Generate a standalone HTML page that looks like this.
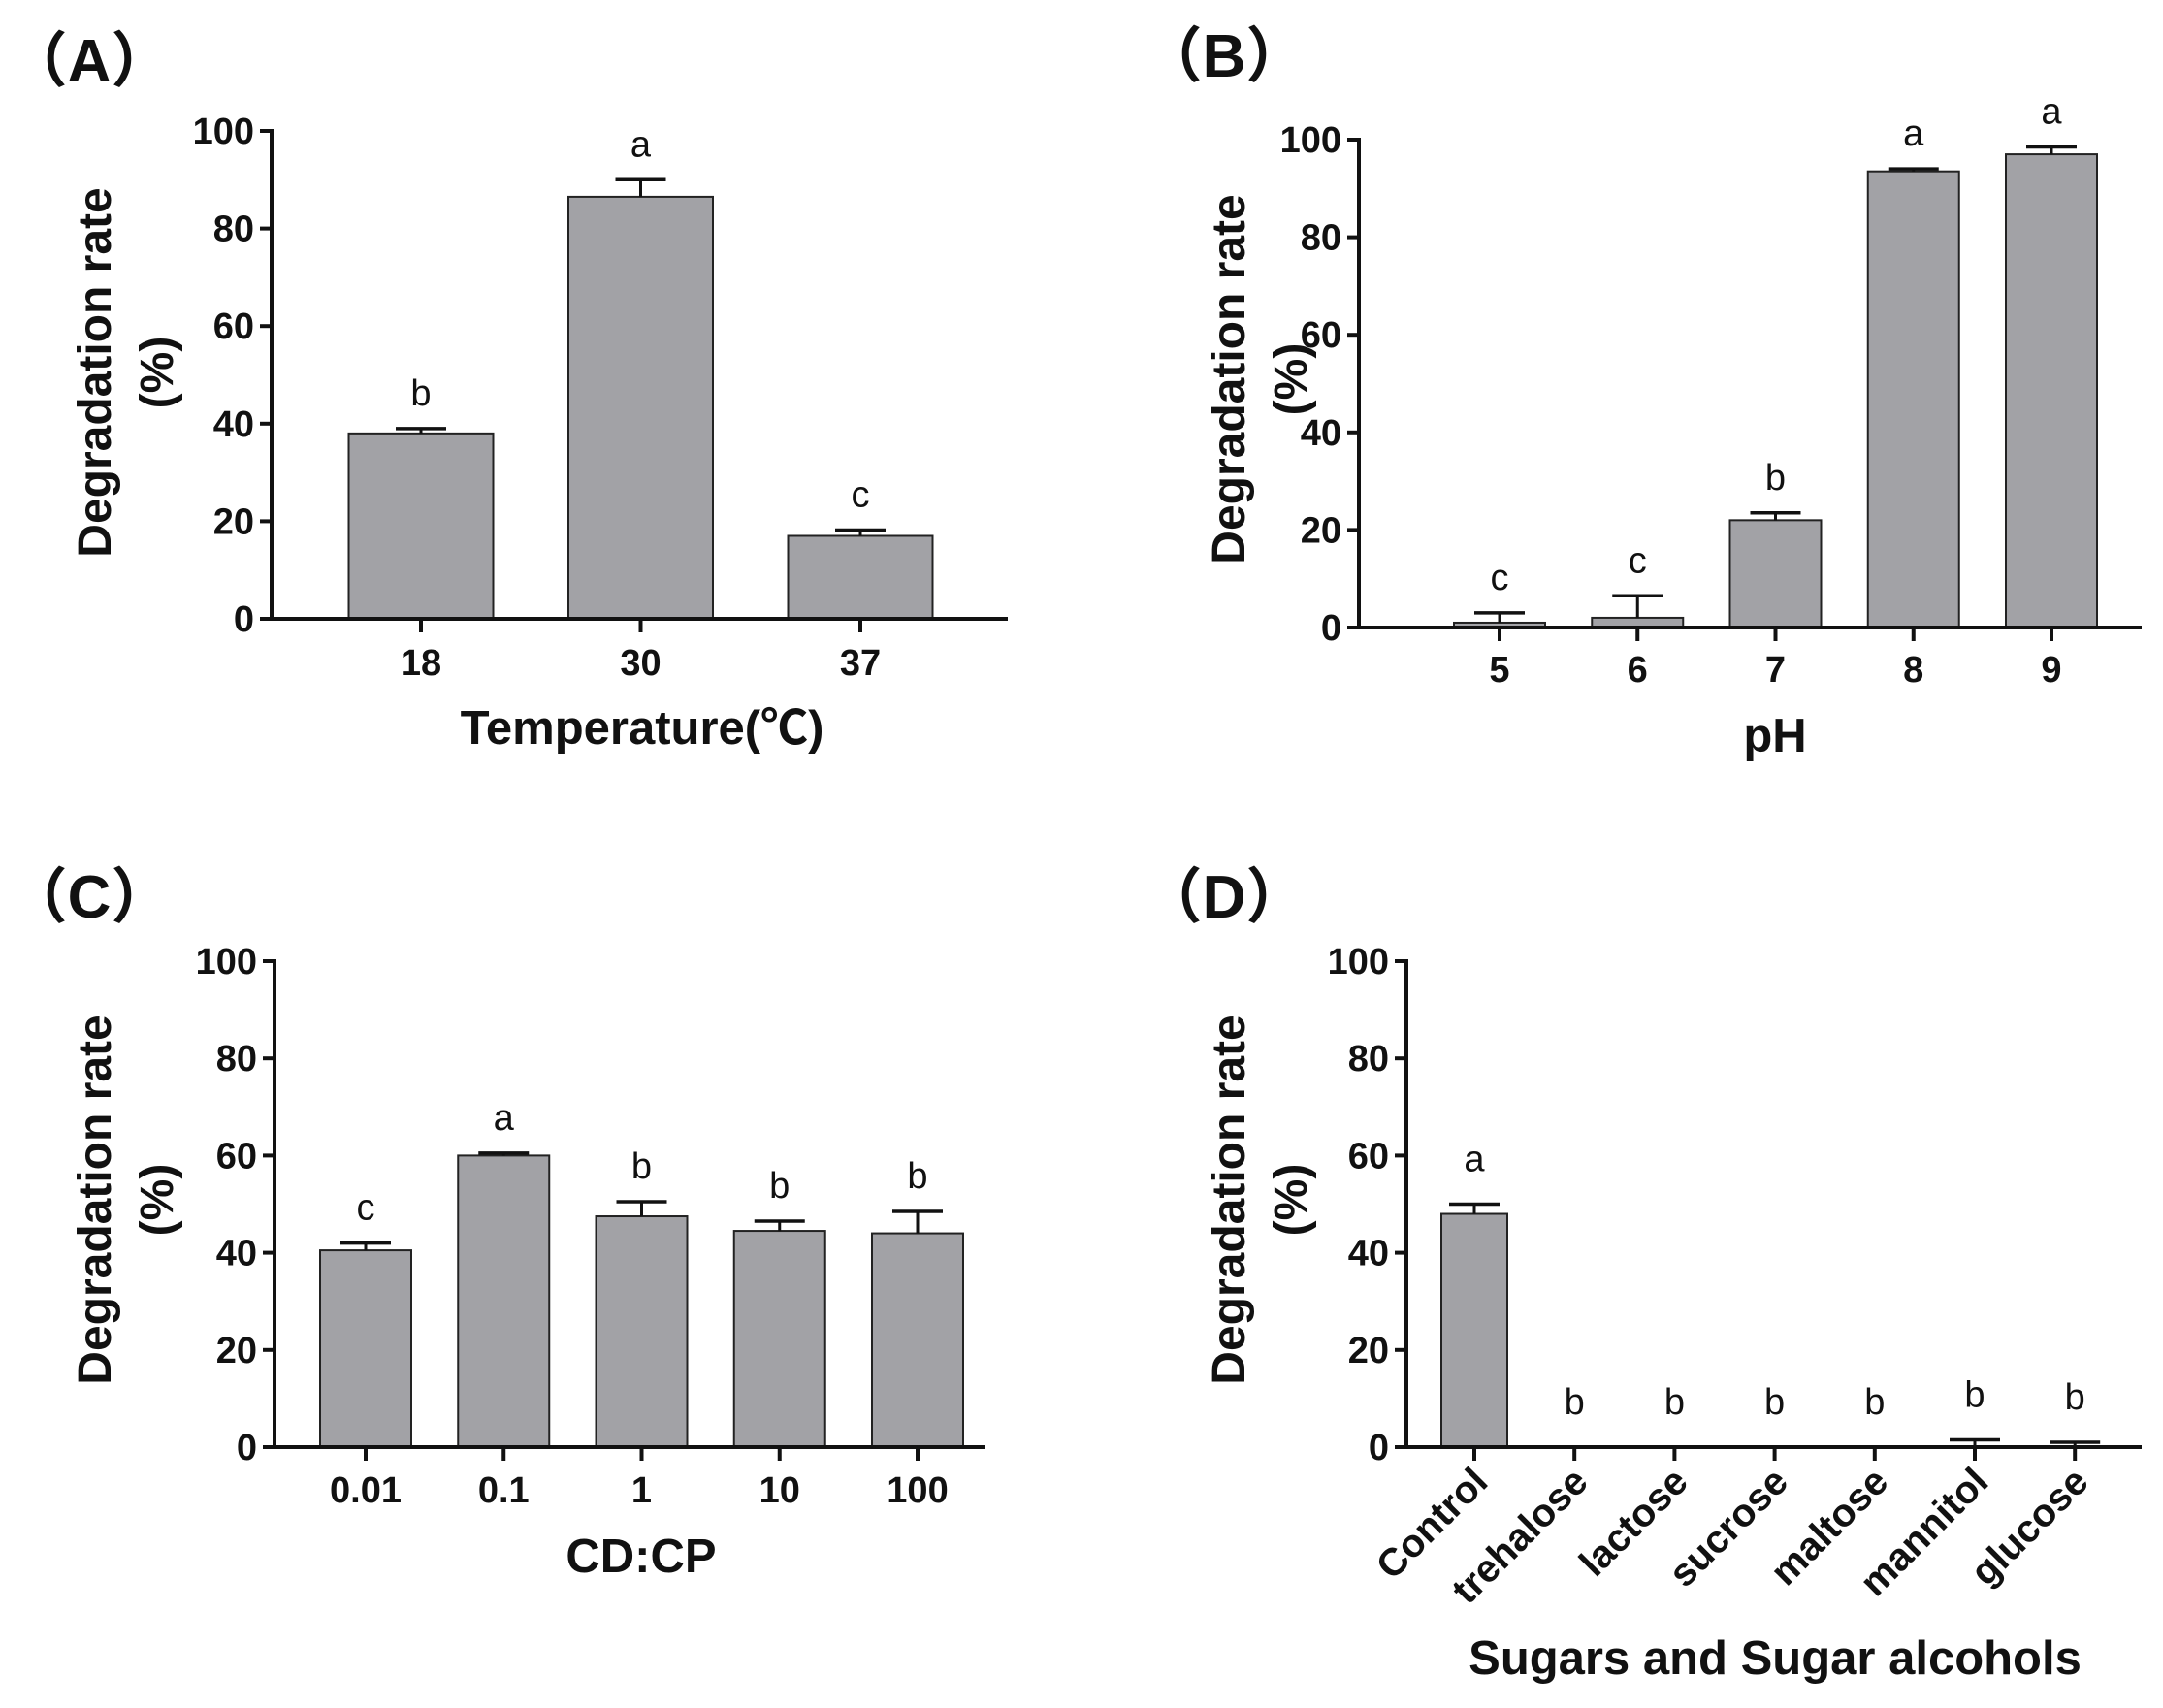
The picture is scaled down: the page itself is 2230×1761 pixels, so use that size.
<!DOCTYPE html>
<html><head><meta charset="utf-8"><style>
html,body{margin:0;padding:0;background:#fff}
svg{display:block}
text{font-family:"Liberation Sans","Noto Sans CJK SC",sans-serif;fill:#111}
</style></head><body>
<svg id="fig" width="2230" height="1761" viewBox="0 0 2230 1761" xmlns="http://www.w3.org/2000/svg"></svg>
<script>
const aCats=["18","30","37"];
const aVals=[38,86.5,17];
const aErrs=[1,3.5,1.2];
const aLetters=["b","a","c"];
const bCats=["5","6","7","8","9"];
const bVals=[1,2,22,93.5,97];
const bErrs=[2,4.5,1.5,0.5,1.5];
const bLetters=["c","c","b","a","a"];
const cCats=["0.01","0.1","1","10","100"];
const cVals=[40.5,60,47.5,44.5,44];
const cErrs=[1.5,0.5,3,2,4.5];
const cLetters=["c","a","b","b","b"];
const dCats=["Control","trehalose","lactose","sucrose","maltose","mannitol","glucose"];
const dVals=[48,0,0,0,0,0,0];
const dErrs=[2,0,0,0,0,1.5,1];
const dLetters=["a","b","b","b","b","b","b"];
const yTicks=[0,20,40,60,80,100];

const NS="http://www.w3.org/2000/svg";
const svg=document.getElementById('fig');
function mk(tag,attrs,parent,txt){const e=document.createElementNS(NS,tag);for(const k in attrs)e.setAttribute(k,attrs[k]);if(txt!==undefined)e.textContent=txt;(parent||svg).appendChild(e);return e;}

function panel(o){
  const g=mk('g',{});
  
  
  const y=v=>o.y0-(v/100)*(o.y0-o.y100);
  const x=i=>o.c0+i*o.step;
  const lab=mk('text',{x:o.lx,y:o.ly,'font-size':62,'font-weight':'bold','text-anchor':'middle'},g,'（'+o.id+'）');
  
  
  yTicks.forEach(t=>{
    mk('line',{x1:o.ax-12,x2:o.ax,y1:y(t),y2:y(t),stroke:'#111','stroke-width':4},g);
    const tt=mk('text',{x:o.ax-18,y:y(t)+13,'font-size':38,'font-weight':'bold','text-anchor':'end'},g,String(t));
    
    
  });
  o.vals.forEach((v,i)=>{
    const cx=x(i);
    if(v>0){
      const r=mk('rect',{x:cx-o.bw/2,y:y(v),width:o.bw,height:o.y0-y(v),fill:'#a2a2a6',stroke:'#222','stroke-width':2},g);
      
      
    }
    const e=o.errs[i];
    if(e>0){
      mk('line',{x1:cx,x2:cx,y1:y(v),y2:y(v+e),stroke:'#111','stroke-width':3},g);
      const cap=mk('line',{x1:cx-26,x2:cx+26,y1:y(v+e),y2:y(v+e),stroke:'#111','stroke-width':3.5},g);
      
      
    }
    const lt=mk('text',{x:cx,y:y(v+e)-(o.rot?34:24),'font-size':38,'text-anchor':'middle'},g,o.letters[i]);
    
    
    mk('line',{x1:cx,x2:cx,y1:o.y0,y2:o.y0+14,stroke:'#111','stroke-width':4},g);
    let cl;
    if(o.rot){
      cl=mk('text',{x:cx+16,y:o.y0+38,'font-size':40,'font-weight':'bold','text-anchor':'end',transform:`rotate(-45 ${cx+16} ${o.y0+38})`},g,o.cats[i]);
    } else {
      cl=mk('text',{x:cx,y:o.tly,'font-size':38,'font-weight':'bold','text-anchor':'middle'},g,o.cats[i]);
    }
    
    
  });
  mk('line',{x1:o.ax,x2:o.ax,y1:o.y100-2,y2:o.y0+2,stroke:'#111','stroke-width':4},g);
  mk('line',{x1:o.ax-2,x2:o.xend,y1:o.y0,y2:o.y0,stroke:'#111','stroke-width':4},g);
  const yt=mk('text',{x:0,y:0,'font-size':48,'font-weight':'bold','text-anchor':'middle',transform:`translate(${o.ytx} ${o.ytc}) rotate(-90)`},g);
  
  
  mk('tspan',{x:0,y:0},yt,'Degradation rate');
  mk('tspan',{x:0,y:64},yt,'(%)');
  const xt=mk('text',{x:o.xtx,y:o.xty,'font-size':49,'font-weight':'bold','text-anchor':'middle'},g,o.xtitle);
  
  
}
panel({id:'A',lx:92,ly:84,ax:280,y100:135,y0:638,xend:1039,c0:434,step:226.5,bw:149,cats:aCats,vals:aVals,errs:aErrs,letters:aLetters,tly:696,ytx:114,ytc:384,xtitle:'Temperature(℃)',xtx:662,xty:767});
panel({id:'B',lx:1262,ly:79,ax:1401,y100:144,y0:647,xend:2208,c0:1546,step:142.25,bw:94,cats:bCats,vals:bVals,errs:bErrs,letters:bLetters,tly:703,ytx:1283,ytc:391,xtitle:'pH',xtx:1830,xty:775});
panel({id:'C',lx:92,ly:946,ax:283,y100:991,y0:1492,xend:1015,c0:377,step:142.25,bw:94,cats:cCats,vals:cVals,errs:cErrs,letters:cLetters,tly:1549,ytx:114,ytc:1237,xtitle:'CD:CP',xtx:661,xty:1621});
panel({id:'D',lx:1262,ly:946,ax:1450,y100:991,y0:1492,xend:2208,c0:1520,step:103.2,bw:68,rot:true,cats:dCats,vals:dVals,errs:dErrs,letters:dLetters,ytx:1283,ytc:1237,xtitle:'Sugars and Sugar alcohols',xtx:1830,xty:1726});
</script>
</body></html>
